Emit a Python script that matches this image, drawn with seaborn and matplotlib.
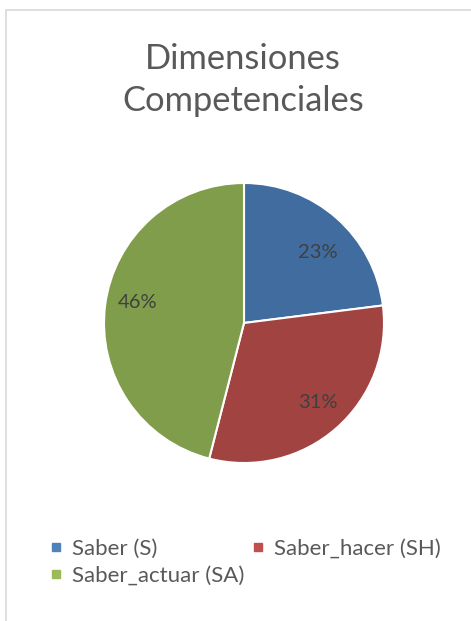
import matplotlib.pyplot as plt
import seaborn as sns
from matplotlib.lines import Line2D
from matplotlib.patches import Rectangle

categories = ['Saber (S)', 'Saber_hacer (SH)', 'Saber_actuar (SA)']
shares = [23, 31, 46]
slice_colors = ['#416C9F', '#A04341', '#809D4B']
legend_colors = ['#4F81BD', '#C0504D', '#9BBB59']
title = "Dimensiones\nCompetenciales"

sns.set_theme(style="white")
plt.rcParams['font.family'] = ['Lato', 'DejaVu Sans']

W, H = 471, 621
fig = plt.figure(figsize=(W / 100, H / 100), dpi=100)

# light chart frame (cut off on the right / bottom in the reference)
fig.patches.append(Rectangle((6 / W, -0.1), 1.2, 1 - 10 / H + 0.1, transform=fig.transFigure,
                             fill=False, edgecolor='#D9D9D9', linewidth=1.2))

cx, cy, r = 244, 323, 140
ax = fig.add_axes([(cx - r) / W, (H - cy - r) / H, 2 * r / W, 2 * r / H])
wedges, texts, autotexts = ax.pie(shares, colors=slice_colors, startangle=90, counterclock=False,
                                  autopct='%1.0f%%', pctdistance=0.76,
                                  wedgeprops=dict(edgecolor='white', linewidth=1.5),
                                  textprops=dict(color='#404040', fontsize=14.5))
# Excel "best fit" label placement
autotexts[0].set_position((0.53, 0.5))
autotexts[1].set_position((0.53, -0.57))
autotexts[2].set_position((-0.76, 0.15))
ax.set_xlim(-1, 1)
ax.set_ylim(-1, 1)
ax.set_aspect('equal')
ax.axis('off')

fig.text(0.516, 1 - 80 / H, title, ha='center', va='center', fontsize=24.8, color='#595959',
         linespacing=1.42)

handles = [Line2D([], [], marker='s', linestyle='', markersize=5.5, color=c) for c in legend_colors]
order = [0, 2, 1]
fig.legend([handles[i] for i in order], [categories[i] for i in order], ncol=2,
           loc='upper left', bbox_to_anchor=(36 / W, 1 - 530 / H), frameon=False,
           fontsize=16, labelcolor='#595959', handletextpad=0.2, handlelength=1.0,
           columnspacing=0.15, labelspacing=0.3, borderaxespad=0)

fig.savefig('out.png', dpi=100)
